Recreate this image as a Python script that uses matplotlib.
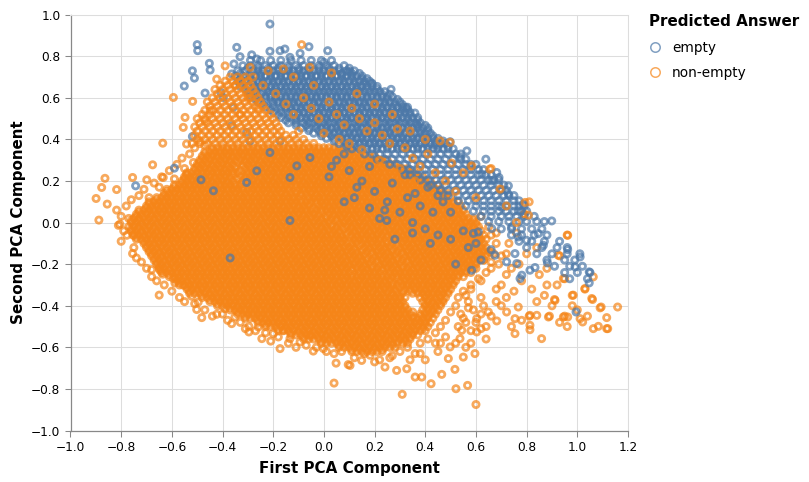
import numpy as np
import matplotlib
matplotlib.use("Agg")
import matplotlib.pyplot as plt
from matplotlib.lines import Line2D

# ------------------------------------------------------------------
# Data (PCA coordinates).
# Dense regions are given as rows: one y value per row and the x
# positions (in hundredths) of the rings seen along that row.
# ------------------------------------------------------------------
SERIES = ["empty", "non-empty"]
COLORS = ["#4c78a8", "#f58518"]
X_TICKS = [-1.0, -0.8, -0.6, -0.4, -0.2, 0.0, 0.2, 0.4, 0.6, 0.8, 1.0, 1.2]
Y_TICKS = [-1.0, -0.8, -0.6, -0.4, -0.2, 0.0, 0.2, 0.4, 0.6, 0.8, 1.0]

# non-empty: saturated core (rows)
ORANGE_ROW_Y = [0.36, 0.34, 0.32, 0.30, 0.28, 0.26, 0.24, 0.22, 0.20, 0.18,
                0.16, 0.14, 0.12, 0.10, 0.08, 0.06, 0.04, 0.02, 0.00, -0.02,
                -0.04, -0.06, -0.08, -0.10, -0.12, -0.14, -0.16, -0.18, -0.20, -0.22,
                -0.24, -0.26, -0.28, -0.30, -0.32, -0.34, -0.36, -0.38, -0.40, -0.42,
                -0.44, -0.46, -0.48, -0.50, -0.52, -0.54, -0.56, -0.58, -0.60, -0.62]
ORANGE_ROW_X = [
    [-44,-42,-40,-38,-36,-34,-32,-30,-28,-26,-24,-22,-20,-18,-16,-14,-12,-10,-8,-6,-4,-2,0,2,4,6,8,10],
    [-47,-45,-43,-41,-39,-37,-35,-33,-31,-29,-27,-25,-23,-21,-19,-17,-15,-13,-11,-9,-7,-5,-3,-1,1,3,5,7,9,11,13,15],
    [-48,-46,-44,-42,-40,-38,-36,-34,-32,-30,-28,-26,-24,-22,-20,-18,-16,-14,-12,-10,-8,-6,-4,-2,0,2,4,6,8,10,12,14,16,18,20],
    [-49,-47,-45,-43,-41,-39,-37,-35,-33,-31,-29,-27,-25,-23,-21,-19,-17,-15,-13,-11,-9,-7,-5,-3,-1,1,3,5,7,9,11,13,15,17,19,21,23,25],
    [-50,-48,-46,-44,-42,-40,-38,-36,-32,-30,-28,-26,-24,-22,-20,-18,-16,-14,-12,-10,-8,-6,-4,-2,0,2,4,6,8,10,12,14,16,18,20,22,24,26,28],
    [-51,-49,-47,-45,-43,-41,-39,-37,-35,-31,-29,-27,-25,-23,-21,-19,-17,-15,-13,-11,-9,-7,-5,-3,-1,1,3,5,7,9,11,13,15,17,19,21,23,25,27,29,31,33],
    [-54,-52,-50,-48,-46,-44,-42,-40,-38,-36,-34,-30,-28,-26,-24,-22,-20,-18,-16,-14,-12,-10,-8,-6,-4,-2,0,2,4,6,8,10,12,14,16,18,20,22,24,26,28,30,32,34,36],
    [-55,-53,-51,-49,-47,-45,-43,-41,-39,-37,-33,-31,-29,-27,-25,-23,-21,-19,-17,-15,-13,-11,-9,-7,-5,-3,-1,1,3,5,7,9,11,13,15,17,19,21,23,25,27,29,31,33,35,37,39],
    [-56,-54,-52,-50,-48,-46,-44,-42,-40,-38,-36,-32,-30,-28,-26,-24,-22,-20,-18,-16,-14,-12,-10,-8,-6,-4,-2,0,2,4,6,8,10,12,14,16,18,20,22,24,26,28,30,32,34,36,38,40,42],
    [-59,-57,-55,-53,-51,-49,-47,-45,-43,-41,-39,-37,-35,-33,-29,-27,-25,-23,-21,-19,-17,-15,-13,-11,-9,-7,-5,-3,-1,1,3,5,7,9,11,13,15,17,19,21,23,25,27,29,31,33,35,37,39,41,43,45],
    [-62,-60,-58,-56,-54,-52,-50,-48,-46,-44,-42,-40,-38,-36,-34,-32,-30,-28,-26,-24,-22,-20,-18,-16,-14,-10,-8,-6,-4,-2,0,2,4,6,8,10,12,14,16,18,20,22,24,26,28,30,32,34,36,38,40,42,44,46],
    [-63,-61,-59,-57,-55,-53,-51,-49,-47,-45,-43,-41,-39,-37,-35,-33,-31,-29,-27,-25,-23,-21,-19,-17,-15,-13,-11,-9,-7,-5,-3,-1,1,3,5,7,9,11,13,15,17,19,21,23,25,27,29,31,33,35,37,39,41,43,45,47,49],
    [-66,-64,-62,-60,-58,-56,-54,-52,-50,-48,-46,-44,-42,-40,-38,-36,-34,-32,-30,-28,-26,-24,-22,-20,-18,-16,-14,-12,-10,-6,-4,-2,0,2,4,6,8,10,12,14,16,18,20,22,24,26,28,30,32,34,36,38,40,42,44,46,48,50],
    [-69,-67,-65,-63,-61,-59,-57,-55,-53,-51,-49,-47,-45,-43,-41,-39,-37,-35,-33,-31,-29,-27,-25,-23,-21,-19,-17,-15,-13,-11,-9,-7,-5,-3,-1,1,3,5,7,9,11,13,15,17,19,21,23,25,27,29,31,33,35,37,39,41,43,45,47,49,51,53],
    [-70,-68,-66,-64,-62,-60,-58,-56,-54,-52,-50,-48,-46,-44,-42,-40,-38,-36,-34,-32,-30,-28,-26,-24,-22,-20,-18,-16,-14,-12,-10,-8,-6,-2,0,2,4,6,8,10,12,14,16,18,20,22,24,26,28,30,32,34,36,38,40,42,44,46,48,50,52,54],
    [-73,-71,-69,-67,-65,-63,-61,-59,-57,-55,-53,-51,-49,-47,-45,-43,-41,-39,-37,-35,-33,-31,-29,-27,-25,-23,-21,-19,-17,-15,-13,-11,-9,-7,-5,-3,-1,1,3,5,7,9,11,13,15,17,19,21,23,25,27,29,31,33,35,37,39,41,43,45,47,49,51,53,55],
    [-74,-72,-70,-68,-66,-64,-62,-60,-58,-56,-54,-52,-50,-48,-46,-44,-42,-40,-38,-36,-34,-32,-30,-28,-26,-24,-22,-20,-18,-16,-14,-12,-10,-8,-6,-4,-2,2,4,6,8,10,12,14,16,18,20,22,24,26,28,30,32,34,36,38,40,42,44,46,48,50,52,54,56],
    [-77,-75,-73,-71,-69,-67,-65,-63,-61,-59,-57,-55,-53,-51,-49,-47,-45,-43,-41,-39,-37,-35,-33,-31,-29,-27,-25,-23,-21,-19,-17,-15,-13,-11,-9,-7,-5,-3,-1,1,3,5,7,9,11,13,15,17,19,21,23,25,27,29,31,33,35,37,39,41,43,45,47,49,51,53,55,57,59],
    [-76,-74,-72,-70,-68,-66,-64,-62,-60,-58,-56,-54,-52,-50,-48,-46,-44,-42,-40,-38,-36,-34,-32,-30,-28,-26,-24,-22,-20,-18,-16,-14,-12,-10,-8,-6,-4,-2,0,2,6,8,10,12,14,16,18,20,22,24,26,28,30,32,34,36,38,40,42,44,46,48,50,52,54,56,58,60],
    [-77,-75,-73,-71,-69,-67,-65,-63,-61,-59,-57,-55,-53,-51,-49,-47,-45,-43,-41,-39,-37,-35,-33,-31,-29,-27,-25,-23,-21,-19,-17,-15,-13,-11,-9,-7,-5,-3,-1,1,3,5,7,9,11,13,15,17,19,21,23,25,27,29,31,33,35,37,39,41,43,45,47,49,51,53,55,57,59,61],
    [-76,-74,-72,-70,-68,-66,-64,-62,-60,-58,-56,-54,-52,-50,-48,-46,-44,-42,-40,-38,-36,-34,-32,-30,-28,-26,-24,-22,-20,-18,-16,-14,-12,-10,-8,-6,-4,-2,0,2,4,6,10,12,14,16,18,20,22,24,26,28,30,32,34,36,38,40,42,44,46,48,50,52,54,56,58,60,62],
    [-75,-73,-71,-69,-67,-65,-63,-61,-59,-57,-55,-53,-51,-49,-47,-45,-43,-41,-39,-37,-35,-33,-31,-29,-27,-25,-23,-21,-19,-17,-15,-13,-11,-9,-7,-5,-3,-1,1,3,5,7,9,11,13,15,17,19,21,23,25,27,29,31,33,35,37,39,41,43,45,47,49,51,53,55,57,59,61,63],
    [-74,-72,-70,-68,-66,-64,-62,-60,-58,-56,-54,-52,-50,-48,-46,-44,-42,-40,-38,-36,-34,-32,-30,-28,-26,-24,-22,-20,-18,-16,-14,-12,-10,-8,-6,-4,-2,0,2,4,6,8,12,14,16,18,20,22,26,28,30,32,34,36,38,40,42,44,46,48,50,52,54,56,58,60,62,64],
    [-71,-69,-67,-65,-63,-61,-59,-57,-55,-53,-51,-49,-47,-45,-43,-41,-39,-37,-35,-33,-31,-29,-27,-25,-23,-21,-19,-17,-15,-13,-11,-9,-7,-5,-3,-1,1,3,5,7,9,11,13,15,17,19,21,23,25,27,29,31,33,35,37,39,41,43,45,47,49,51,53,55,57,59,61,63],
    [-70,-68,-66,-64,-62,-60,-58,-56,-54,-52,-50,-48,-46,-44,-42,-40,-38,-36,-34,-32,-30,-28,-26,-24,-22,-20,-18,-16,-14,-12,-10,-8,-6,-4,-2,0,2,4,6,8,10,12,16,18,20,22,24,26,30,32,34,36,38,40,42,44,46,48,50,52,54,56,58,60,62,64],
    [-69,-67,-65,-63,-61,-59,-57,-55,-53,-51,-49,-47,-45,-43,-41,-39,-37,-35,-33,-31,-29,-27,-25,-23,-21,-19,-17,-15,-13,-11,-9,-7,-5,-3,-1,1,3,5,7,9,11,13,15,17,19,21,23,25,27,29,31,33,35,37,39,41,43,45,47,49,51,53,55,57,59,61,63,65],
    [-68,-66,-64,-62,-60,-58,-56,-54,-52,-50,-48,-46,-44,-42,-40,-38,-36,-34,-32,-30,-28,-26,-24,-22,-20,-18,-16,-14,-12,-10,-8,-6,-4,-2,0,2,4,6,8,10,12,14,16,20,22,24,26,28,32,34,36,38,40,42,44,46,48,50,52,54,56,58,60,62,64],
    [-67,-65,-63,-61,-59,-57,-55,-53,-51,-49,-47,-45,-43,-41,-39,-37,-35,-33,-31,-29,-27,-25,-23,-21,-19,-17,-15,-13,-11,-9,-7,-5,-3,-1,1,3,5,7,9,11,13,15,17,19,21,23,25,27,29,31,33,35,37,39,41,43,45,47,49,51,53,55,57,59,61,63],
    [-66,-64,-62,-60,-58,-56,-54,-52,-50,-48,-46,-44,-42,-40,-38,-36,-34,-32,-30,-28,-26,-24,-22,-20,-18,-16,-14,-12,-10,-8,-6,-4,-2,0,2,4,6,8,10,12,14,16,18,22,24,26,28,30,34,36,38,40,42,44,46,48,50,52,54,56,58,60],
    [-65,-63,-61,-59,-57,-55,-53,-51,-49,-47,-45,-43,-41,-39,-37,-35,-33,-31,-29,-27,-25,-23,-21,-19,-17,-15,-13,-11,-9,-7,-5,-3,-1,1,3,5,7,9,11,13,15,17,19,21,23,25,27,29,31,33,35,37,39,41,43,45,47,49,51,53,55,57,59],
    [-64,-62,-60,-58,-56,-54,-52,-50,-48,-46,-44,-42,-40,-38,-36,-34,-32,-30,-28,-26,-24,-22,-20,-18,-16,-14,-12,-10,-8,-6,-4,-2,0,2,4,6,8,10,14,16,18,20,22,26,28,30,32,34,36,38,40,42,44,46,48,50,52,54,56,58],
    [-61,-59,-57,-55,-53,-51,-49,-47,-45,-43,-41,-39,-37,-35,-33,-31,-29,-27,-25,-23,-21,-19,-17,-15,-13,-11,-9,-7,-5,-3,-1,1,3,5,7,9,11,13,15,17,19,21,23,25,27,29,31,33,35,37,39,41,43,45,47,49,51,53,55],
    [-58,-56,-54,-52,-50,-48,-46,-44,-42,-40,-38,-36,-34,-32,-30,-28,-26,-24,-22,-20,-18,-16,-14,-12,-10,-8,-6,-4,-2,0,2,4,6,8,10,12,14,16,18,20,22,24,26,30,32,34,36,38,40,42,44,46,48,50,52],
    [-57,-55,-53,-51,-49,-47,-45,-43,-41,-39,-37,-35,-33,-31,-29,-27,-25,-23,-21,-19,-17,-15,-13,-11,-9,-7,-5,-3,-1,1,3,5,7,9,11,13,15,17,19,21,23,25,27,29,31,33,35,37,39,41,43,45,47,49,51],
    [-54,-52,-50,-48,-46,-44,-42,-40,-38,-36,-34,-32,-30,-28,-26,-24,-22,-20,-18,-16,-14,-12,-10,-8,-6,-4,-2,0,2,4,6,8,10,12,14,16,18,20,22,24,26,28,32,34,36,38,40,42,44,46,48,50],
    [-53,-51,-49,-47,-45,-43,-41,-39,-37,-35,-33,-31,-29,-27,-25,-23,-21,-19,-17,-15,-13,-11,-9,-7,-5,-3,-1,1,3,5,7,9,11,13,15,17,19,21,23,25,27,29,31,35,37,39,41,43,45,47,49],
    [-48,-46,-44,-42,-40,-38,-36,-34,-32,-30,-28,-26,-24,-22,-20,-18,-16,-14,-12,-10,-8,-6,-4,-2,0,2,4,6,8,10,12,14,16,18,20,22,24,26,28,30,32,38,40,42,44,46,48],
    [-45,-43,-41,-39,-37,-35,-33,-31,-29,-27,-25,-23,-21,-19,-17,-15,-13,-11,-9,-7,-5,-3,-1,1,3,5,7,9,11,13,15,17,19,21,23,25,27,29,31,39,41,43,45,47],
    [-42,-40,-38,-36,-34,-32,-30,-28,-26,-24,-22,-20,-18,-16,-14,-12,-10,-8,-6,-4,-2,0,2,4,6,8,10,12,14,16,18,20,22,24,26,28,30,32,40,42,44,46],
    [-37,-35,-33,-31,-29,-27,-25,-23,-21,-19,-17,-15,-13,-11,-9,-7,-5,-3,-1,1,3,5,7,9,11,13,15,17,19,21,23,25,27,29,31,33,39,41,43,45],
    [-34,-32,-30,-28,-26,-24,-22,-20,-18,-16,-14,-12,-10,-8,-6,-4,-2,0,2,4,6,8,10,12,14,16,18,20,22,24,26,28,30,32,34,38,40,42,44],
    [-31,-29,-27,-25,-23,-21,-19,-17,-15,-13,-11,-9,-7,-5,-3,-1,1,3,5,7,9,11,13,15,17,19,21,23,25,27,29,31,33,35,37,39,41,43],
    [-26,-24,-22,-20,-18,-16,-14,-12,-10,-8,-6,-4,-2,0,2,4,6,8,10,12,14,16,18,20,22,24,26,28,30,32,34,36,38,40,42],
    [-23,-21,-19,-17,-15,-13,-11,-9,-7,-5,-3,-1,1,3,5,7,9,11,13,15,17,19,21,23,25,27,29,31,33,35,37,39,41],
    [-18,-16,-14,-12,-10,-8,-6,-4,-2,0,2,4,6,8,10,12,14,16,18,20,22,24,26,28,30,32,34,36,38,40],
    [-13,-11,-9,-7,-5,-3,-1,1,3,5,7,9,11,13,15,17,19,21,23,25,27,29,31,33,35,37],
    [-8,-6,-4,-2,0,2,4,6,8,10,12,14,16,18,20,22,24,26,28,30,32,34],
    [-1,1,3,5,7,9,11,13,15,17,19,21,23,25,27,29,31,33],
    [6,8,10,12,14,16,18,20,22,24,26,28],
    [11,13,15,17,19,21,23],
]

# non-empty: rings between the rows above (same saturated core)
ORANGE_MID_Y = [0.35, 0.33, 0.31, 0.29, 0.27, 0.25, 0.23, 0.21, 0.19, 0.17,
                0.15, 0.13, 0.11, 0.09, 0.07, 0.05, 0.03, 0.01, -0.01, -0.03,
                -0.05, -0.07, -0.09, -0.11, -0.13, -0.15, -0.17, -0.19, -0.21, -0.23,
                -0.25, -0.27, -0.29, -0.31, -0.33, -0.35, -0.37, -0.39, -0.41, -0.43,
                -0.45, -0.47, -0.49, -0.51, -0.53, -0.55, -0.57, -0.59, -0.61]
ORANGE_MID_X = [
    [-44,-41,-38,-35,-32,-29,-26,-23,-20,-17,-14,-11,-8,-5,-2,1,4,7,10],
    [-47,-44,-41,-38,-35,-32,-29,-26,-23,-20,-17,-14,-11,-8,-5,-2,1,4,7,10,13],
    [-48,-45,-42,-39,-36,-33,-30,-27,-24,-21,-18,-15,-12,-9,-6,-3,0,3,6,9,12,15,18],
    [-49,-46,-43,-40,-37,-34,-31,-28,-25,-22,-19,-16,-13,-10,-7,-4,-1,2,5,8,11,14,17,20,23],
    [-50,-47,-44,-41,-38,-35,-32,-29,-26,-23,-20,-17,-14,-11,-8,-5,-2,1,4,7,10,13,16,19,22,25,28],
    [-51,-48,-45,-42,-39,-36,-33,-30,-27,-24,-21,-18,-15,-12,-9,-6,-3,0,3,6,9,12,15,18,21,24,27,30,33],
    [-54,-51,-48,-45,-42,-39,-36,-33,-30,-27,-24,-21,-18,-15,-12,-9,-6,-3,0,3,6,9,12,15,18,21,24,27,30,33,36],
    [-55,-52,-49,-46,-43,-40,-37,-34,-31,-28,-25,-22,-19,-16,-13,-10,-7,-4,-1,2,5,8,11,14,17,20,23,26,29,32,35,38],
    [-56,-53,-50,-47,-44,-41,-38,-35,-32,-29,-26,-23,-20,-17,-14,-11,-8,-5,-2,1,4,7,10,13,16,19,22,25,28,31,34,37,40],
    [-59,-56,-53,-50,-47,-44,-41,-38,-35,-32,-29,-26,-23,-20,-17,-14,-11,-8,-5,-2,1,4,7,10,13,16,19,22,25,28,31,34,37,40,43],
    [-62,-59,-56,-53,-50,-47,-44,-41,-38,-35,-32,-29,-26,-23,-20,-17,-14,-11,-8,-5,-2,1,4,7,10,13,16,19,22,25,28,31,34,37,40,43,46],
    [-63,-60,-57,-54,-51,-48,-45,-42,-39,-36,-33,-30,-27,-24,-21,-18,-15,-12,-9,-6,-3,0,3,6,9,12,15,18,21,24,27,30,33,36,39,42,45,48],
    [-66,-63,-60,-57,-54,-51,-48,-45,-42,-39,-36,-33,-30,-27,-24,-21,-18,-15,-12,-9,-6,-3,0,3,6,9,12,15,18,21,24,27,30,33,36,39,42,45,48],
    [-69,-66,-63,-60,-57,-54,-51,-48,-45,-42,-39,-36,-33,-30,-27,-24,-21,-18,-15,-12,-9,-6,-3,0,3,6,9,12,15,18,21,24,27,30,33,36,39,42,45,48,51],
    [-70,-67,-64,-61,-58,-55,-52,-49,-46,-43,-40,-37,-34,-31,-28,-25,-22,-19,-16,-13,-10,-7,-4,-1,2,5,8,11,14,17,20,23,26,29,32,35,38,41,44,47,50,53],
    [-73,-70,-67,-64,-61,-58,-55,-52,-49,-46,-43,-40,-37,-34,-31,-28,-25,-22,-19,-16,-13,-10,-7,-4,-1,2,5,8,11,14,17,20,23,26,29,32,35,38,41,44,47,50,53],
    [-74,-71,-68,-65,-62,-59,-56,-53,-50,-47,-44,-41,-38,-35,-32,-29,-26,-23,-20,-17,-14,-11,-8,-5,-2,1,4,7,10,13,16,19,22,25,28,31,34,37,40,43,46,49,52,55],
    [-76,-73,-70,-67,-64,-61,-58,-55,-52,-49,-46,-43,-40,-37,-34,-31,-28,-25,-22,-19,-16,-13,-10,-7,-4,-1,2,5,8,11,14,17,20,23,26,29,32,35,38,41,44,47,50,53,56,59],
    [-75,-72,-69,-66,-63,-60,-57,-54,-51,-48,-45,-42,-39,-36,-33,-30,-27,-24,-21,-18,-15,-12,-9,-6,-3,0,3,6,9,12,15,18,21,24,27,30,33,36,39,42,45,48,51,54,57,60],
    [-76,-73,-70,-67,-64,-61,-58,-55,-52,-49,-46,-43,-40,-37,-34,-31,-28,-25,-22,-19,-16,-13,-10,-7,-4,-1,2,5,8,11,14,17,20,23,26,29,32,35,38,41,44,47,50,53,56,59],
    [-75,-72,-69,-66,-63,-60,-57,-54,-51,-48,-45,-42,-39,-36,-33,-30,-27,-24,-21,-18,-15,-12,-9,-6,-3,0,3,6,9,12,15,18,21,24,27,30,33,36,39,42,45,48,51,54,57,60],
    [-74,-71,-68,-65,-62,-59,-56,-53,-50,-47,-44,-41,-38,-35,-32,-29,-26,-23,-20,-17,-14,-11,-8,-5,-2,1,4,7,10,13,16,19,22,25,28,31,34,37,40,43,46,49,52,55,58,61],
    [-71,-68,-65,-62,-59,-56,-53,-50,-47,-44,-41,-38,-35,-32,-29,-26,-23,-20,-17,-14,-11,-8,-5,-2,1,4,7,10,13,16,19,22,25,28,31,34,37,40,43,46,49,52,55,58,61],
    [-70,-67,-64,-61,-58,-55,-52,-49,-46,-43,-40,-37,-34,-31,-28,-25,-22,-19,-16,-13,-10,-7,-4,-1,2,5,8,11,14,17,20,23,26,29,32,35,38,41,44,47,50,53,56,59,62],
    [-69,-66,-63,-60,-57,-54,-51,-48,-45,-42,-39,-36,-33,-30,-27,-24,-21,-18,-15,-12,-9,-6,-3,0,3,6,9,12,15,18,21,24,27,30,33,36,39,42,45,48,51,54,57,60,63],
    [-68,-65,-62,-59,-56,-53,-50,-47,-44,-41,-38,-35,-32,-29,-26,-23,-20,-17,-14,-11,-8,-5,-2,1,4,7,10,13,16,19,22,25,28,31,34,37,40,43,46,49,52,55,58,61,64],
    [-67,-64,-61,-58,-55,-52,-49,-46,-43,-40,-37,-34,-31,-28,-25,-22,-19,-16,-13,-10,-7,-4,-1,2,5,8,11,14,17,20,23,26,29,32,35,38,41,44,47,50,53,56,59,62],
    [-66,-63,-60,-57,-54,-51,-48,-45,-42,-39,-36,-33,-30,-27,-24,-21,-18,-15,-12,-9,-6,-3,0,3,6,9,12,15,18,21,24,27,30,33,36,39,42,45,48,51,54,57,60],
    [-65,-62,-59,-56,-53,-50,-47,-44,-41,-38,-35,-32,-29,-26,-23,-20,-17,-14,-11,-8,-5,-2,1,4,7,10,13,16,19,22,25,28,31,34,37,40,43,46,49,52,55,58],
    [-64,-61,-58,-55,-52,-49,-46,-43,-40,-37,-34,-31,-28,-25,-22,-19,-16,-13,-10,-7,-4,-1,2,5,8,11,14,17,20,23,26,29,32,35,38,41,44,47,50,53,56],
    [-61,-58,-55,-52,-49,-46,-43,-40,-37,-34,-31,-28,-25,-22,-19,-16,-13,-10,-7,-4,-1,2,5,8,11,14,17,20,23,26,29,32,35,38,41,44,47,50,53],
    [-58,-55,-52,-49,-46,-43,-40,-37,-34,-31,-28,-25,-22,-19,-16,-13,-10,-7,-4,-1,2,5,8,11,14,17,20,23,26,29,32,35,38,41,44,47,50],
    [-57,-54,-51,-48,-45,-42,-39,-36,-33,-30,-27,-24,-21,-18,-15,-12,-9,-6,-3,0,3,6,9,12,15,18,21,24,27,30,33,36,39,42,45,48,51],
    [-54,-51,-48,-45,-42,-39,-36,-33,-30,-27,-24,-21,-18,-15,-12,-9,-6,-3,0,3,6,9,12,15,18,21,24,27,30,33,36,39,42,45,48],
    [-53,-50,-47,-44,-41,-38,-35,-32,-29,-26,-23,-20,-17,-14,-11,-8,-5,-2,1,4,7,10,13,16,19,22,25,28,31,34,37,40,43,46,49],
    [-48,-45,-42,-39,-36,-33,-30,-27,-24,-21,-18,-15,-12,-9,-6,-3,0,3,6,9,12,15,18,21,24,27,30,40,43,46],
    [-45,-42,-39,-36,-33,-30,-27,-24,-21,-18,-15,-12,-9,-6,-3,0,3,6,9,12,15,18,21,24,27,30,41,44,47],
    [-42,-39,-36,-33,-30,-27,-24,-21,-18,-15,-12,-9,-6,-3,0,3,6,9,12,15,18,21,24,27,30,40,43,46],
    [-37,-34,-31,-28,-25,-22,-19,-16,-13,-10,-7,-4,-1,2,5,8,11,14,17,20,23,26,29,32,41,44],
    [-34,-31,-28,-25,-22,-19,-16,-13,-10,-7,-4,-1,2,5,8,11,14,17,20,23,26,29,32,35,40,43],
    [-31,-28,-25,-22,-19,-16,-13,-10,-7,-4,-1,2,5,8,11,14,17,20,23,26,29,32,35,38,41],
    [-26,-23,-20,-17,-14,-11,-8,-5,-2,1,4,7,10,13,16,19,22,25,28,31,34,37,40],
    [-23,-20,-17,-14,-11,-8,-5,-2,1,4,7,10,13,16,19,22,25,28,31,34,37,40],
    [-18,-15,-12,-9,-6,-3,0,3,6,9,12,15,18,21,24,27,30,33,36,39],
    [-13,-10,-7,-4,-1,2,5,8,11,14,17,20,23,26,29,32,35],
    [-8,-5,-2,1,4,7,10,13,16,19,22,25,28,31,34],
    [-1,2,5,8,11,14,17,20,23,26,29,32],
    [6,9,12,15,18,21,24,27],
    [11,14,17,20,23],
]

# non-empty: fringe and outliers around the core
ORANGE_EDGE = [
    (-0.864, 0.213), (-0.877, 0.169), (-0.899, 0.116), (-0.855, 0.089), (-0.888, 0.012), (-0.818, 0.159),
    (-0.818, 0.060), (-0.811, -0.013), (-0.755, 0.217), (-0.699, 0.206), (-0.634, 0.217), (-0.805, -0.008),
    (-0.778, -0.061), (-0.752, -0.061), (-0.755, -0.149), (-0.680, -0.226), (-0.647, -0.229), (-0.636, -0.248),
    (-0.650, -0.349), (-0.594, -0.269), (-0.588, -0.290), (-0.555, -0.301), (-0.522, -0.354), (-0.496, -0.382),
    (-0.502, -0.418), (-0.482, -0.457), (-0.423, -0.441), (-0.390, -0.414), (-0.364, -0.486), (-0.351, -0.454),
    (-0.296, -0.499), (-0.296, -0.526), (-0.245, -0.558), (-0.259, -0.502), (-0.173, -0.606), (-0.160, -0.518),
    (-0.134, -0.558), (-0.094, -0.574), (-0.042, -0.618), (-0.002, -0.606), (0.048, -0.676), (0.040, -0.772),
    (0.096, -0.683), (-0.055, -0.542), (-0.200, -0.534),
    (-0.80, 0.03), (-0.79, -0.04), (-0.80, -0.09), (-0.78, 0.08), (-0.76, 0.11), (-0.73, 0.13), (-0.71, 0.16),
    (-0.69, 0.12), (-0.67, 0.19), (-0.65, 0.17), (-0.64, 0.22), (-0.61, 0.25), (-0.59, 0.21), (-0.58, 0.28),
    (-0.56, 0.31), (-0.55, 0.26), (-0.53, 0.33), (-0.51, 0.36), (-0.49, 0.39), (-0.47, 0.37), (-0.75, -0.12),
    (-0.74, -0.17), (-0.72, -0.19), (-0.70, -0.22), (-0.68, -0.26), (-0.66, -0.28), (-0.63, -0.30), (-0.60, -0.33),
    (-0.57, -0.36), (-0.55, -0.38), (-0.51, -0.39), (-0.47, -0.42), (-0.44, -0.45), (-0.40, -0.44), (-0.38, -0.47),
    (-0.33, -0.48), (-0.31, -0.51), (-0.27, -0.52), (-0.23, -0.53), (-0.21, -0.57), (-0.18, -0.55), (-0.14, -0.58),
    (-0.11, -0.60), (-0.07, -0.59), (-0.03, -0.60), (0.01, -0.62), (0.04, -0.63), (0.07, -0.62), (0.12, -0.65),
    (0.16, -0.63), (0.22, -0.66), (0.27, -0.64), (0.30, -0.62), (0.33, -0.60), (0.36, -0.63), (0.38, -0.58),
    (0.41, -0.56), (0.44, -0.53), (0.46, -0.50), (0.48, -0.47), (0.50, -0.43), (0.52, -0.40), (0.53, -0.36),
    (0.55, -0.33), (0.58, -0.30), (0.61, -0.27), (0.64, -0.24), (0.66, -0.19), (0.67, -0.15), (0.68, -0.10),
    (0.66, -0.06), (0.65, -0.02), (0.62, 0.03),
    (0.56, -0.35), (0.57, -0.38), (0.59, -0.42), (0.55, -0.46), (0.60, -0.48), (0.63, -0.40), (0.66, -0.45),
    (0.58, -0.52), (0.62, -0.51), (0.53, -0.50),
    (0.962, -0.061), (0.925, -0.157), (0.945, -0.269), (1.030, -0.317), (0.984, -0.349), (1.063, -0.261),
    (1.057, -0.365), (1.094, -0.406), (1.159, -0.406), (1.116, -0.457), (1.116, -0.510), (1.063, -0.510),
    (1.083, -0.499), (1.021, -0.478), (1.011, -0.462), (0.962, -0.454), (0.945, -0.454), (0.912, -0.374),
    (0.886, -0.454), (0.859, -0.558), (0.754, -0.534), (0.813, -0.494), (0.813, -0.515), (0.840, -0.446),
    (0.813, -0.446), (0.754, -0.462), (0.767, -0.406), (0.682, -0.473), (0.721, -0.430), (0.649, -0.430),
    (0.603, -0.462), (0.603, -0.526), (0.544, -0.518), (0.537, -0.558), (0.596, -0.630), (0.550, -0.647),
    (0.498, -0.598), (0.491, -0.654), (0.517, -0.706), (0.465, -0.730), (0.423, -0.775), (0.386, -0.743),
    (0.360, -0.743), (0.327, -0.703), (0.287, -0.711), (0.241, -0.695), (0.521, -0.799), (0.567, -0.783),
    (0.600, -0.875), (0.309, -0.826), (0.103, -0.687), (0.149, -0.663), (0.182, -0.638),
    (0.70, -0.16), (0.79, 0.04), (0.70, 0.16), (0.66, 0.26), (0.58, 0.27), (0.68, -0.05), (0.73, -0.10),
    (0.77, -0.20), (0.85, -0.25), (0.88, -0.30), (0.70, -0.30), (0.66, -0.22), (0.72, -0.25), (0.75, -0.33),
    (0.68, -0.38), (0.62, -0.36), (0.57, -0.41), (0.64, -0.50), (0.58, -0.58), (0.45, -0.62), (0.40, -0.66),
    (0.44, -0.58), (0.38, -0.63), (0.34, -0.66), (0.26, -0.65), (0.20, -0.67), (0.72, -0.36), (0.78, -0.28),
    (0.82, -0.32), (0.90, -0.40), (0.87, -0.35), (0.62, -0.28), (0.66, -0.14), (0.72, -0.15), (0.80, -0.15),
    (0.76, -0.05), (0.84, -0.12), (0.88, -0.22), (0.92, -0.30), (0.98, -0.40), (0.84, -0.38), (0.56, -0.48),
    (0.52, -0.58), (0.48, -0.55), (0.70, -0.40), (0.62, -0.44), (0.68, -0.32), (0.78, -0.47), (0.93, -0.48),
    (1.00, -0.42), (1.04, -0.45), (0.96, -0.50), (0.74, -0.50), (0.58, -0.32), (0.63, -0.18), (0.69, -0.20),
    (0.74, -0.22), (0.60, -0.22), (0.54, -0.44), (0.64, -0.56), (0.56, -0.60), (0.46, -0.58), (0.81, -0.45),
    (0.89, -0.45), (0.91, -0.37), (0.95, -0.45), (0.98, -0.35), (1.06, -0.37), (1.09, -0.41), (1.12, -0.51),
    (1.03, -0.32), (0.95, -0.27), (0.93, -0.16), (0.96, -0.06), (0.81, 0.10), (0.79, 0.04),
]

# non-empty: rings lying over the "empty" cloud in the upper-left part
ORANGE_UPPER_ROW_Y = [0.38, 0.40, 0.42, 0.44, 0.46, 0.48, 0.50, 0.52, 0.54,
                      0.56, 0.58, 0.60, 0.62, 0.64, 0.66, 0.68, 0.70]
ORANGE_UPPER_ROW_X = [
    [-52, -49, -46, -43, -40, -37, -34, -31, -28, -25, -22, -19, -16, -13, -10, -7, -4],
    [-50, -47, -44, -41, -38, -35, -32, -29, -26, -23, -20, -17, -14, -11, -8],
    [-51, -48, -45, -42, -39, -36, -33, -30, -27, -24, -21, -18, -15, -12],
    [-50, -47, -44, -41, -38, -35, -32, -29, -26, -23, -20, -17],
    [-51, -48, -45, -42, -39, -36, -33, -30, -27, -24, -21, -18],
    [-49, -46, -43, -40, -37, -34, -31, -28, -25, -22, -19],
    [-50, -47, -44, -41, -38, -35, -32, -29, -26, -23],
    [-48, -45, -42, -39, -36, -33, -30, -27, -24, -21],
    [-47, -44, -41, -38, -35, -32, -29, -26, -23],
    [-45, -42, -39, -36, -33, -30, -27, -24],
    [-46, -43, -40, -37, -34, -31, -28, -25],
    [-44, -41, -38, -35, -32, -29, -26],
    [-42, -39, -36, -33, -30, -27],
    [-43, -40, -37, -34, -31, -28],
    [-41, -38, -35, -32, -29],
    [-39, -36, -33, -30],
    [-37, -34, -31],
]
ORANGE_OVER = [
    (-0.28, 0.70), (-0.24, 0.66), (-0.19, 0.62), (-0.15, 0.57), (-0.12, 0.52), (-0.08, 0.60), (-0.05, 0.55),
    (-0.02, 0.50), (0.02, 0.58), (0.05, 0.52), (0.08, 0.47), (0.11, 0.55), (0.14, 0.50), (0.17, 0.44),
    (0.20, 0.48), (0.23, 0.42), (0.26, 0.38), (0.29, 0.45), (0.32, 0.36), (0.35, 0.31), (0.38, 0.27),
    (0.41, 0.33), (0.44, 0.24), (0.458, 0.393), (0.498, 0.386), (0.48, 0.20), (0.52, 0.15), (0.55, 0.24),
    (0.583, 0.273), (0.504, 0.286), (0.60, 0.12), (0.655, 0.257), (0.695, 0.161), (0.72, 0.08), (0.794, 0.097),
    (0.807, 0.036), (0.76, 0.00), (-0.30, 0.60), (-0.26, 0.55), (-0.20, 0.50), (-0.10, 0.44), (0.00, 0.43),
    (0.06, 0.40), (0.10, 0.38), (-0.35, 0.66), (-0.33, 0.52), (-0.22, 0.73), (-0.12, 0.70), (-0.04, 0.66),
    (0.03, 0.72), (0.13, 0.62), (0.20, 0.57), (0.27, 0.52), (0.34, 0.44), (0.40, 0.40), (-0.088, 0.856),
    (-0.16, 0.739), (-0.055, 0.747), (0.15, 0.35), (0.22, 0.30), (0.30, 0.26), (0.36, 0.20), (-0.291, 0.747),
    (-0.39, 0.754), (-0.423, 0.69), (-0.449, 0.538), (-0.469, 0.49), (-0.542, 0.378), (-0.515, 0.289),
    (-0.542, 0.233), (-0.594, 0.602), (-0.518, 0.583), (-0.548, 0.506), (-0.555, 0.458), (-0.636, 0.382),
    (-0.676, 0.278),
]

# empty: band (rows) along the upper-right of the cloud
BLUE_ROW_Y = [0.780, 0.755, 0.730, 0.705, 0.680, 0.655, 0.630, 0.605, 0.580, 0.555,
              0.530, 0.505, 0.480, 0.455, 0.430, 0.405, 0.380, 0.355, 0.330, 0.305,
              0.280, 0.255, 0.230, 0.205, 0.180, 0.155, 0.130, 0.105, 0.080, 0.055,
              0.030, 0.005, -0.030, -0.060, -0.090, -0.120, -0.150, -0.180, -0.210, -0.240, -0.270]
BLUE_ROW_X = [
    [-29, -25, -21, -17, -13, -9, -5, -1, 3],
    [-32, -29, -26, -23, -20, -17, -14, -11, -8, -5, -2, 1, 4, 8],
    [-34, -31, -28, -26, -24, -22, -20, -18, -16, -14, -12, -10, -8, -6, -4, -2, 0, 2, 4, 6, 9, 12],
    [-35, -32, -29, -27, -25, -23, -21, -19, -17, -15, -13, -11, -9, -7, -5, -3, -1, 1, 3, 5, 7, 9, 11, 13, 15],
    [-34, -31, -28, -26, -24, -22, -20, -18, -16, -14, -12, -10, -8, -6, -4, -2, 0, 2, 4, 6, 8, 10, 12, 14, 16, 18],
    [-33, -30, -27, -25, -23, -21, -19, -17, -15, -13, -11, -9, -7, -5, -3, -1, 1, 3, 5, 7, 9, 11, 13, 15, 17, 19, 21],
    [-30, -27, -24, -22, -20, -18, -16, -14, -12, -10, -8, -6, -4, -2, 0, 2, 4, 6, 8, 10, 12, 14, 16, 18, 20, 22, 24],
    [-29, -26, -23, -21, -19, -17, -15, -13, -11, -9, -7, -5, -3, -1, 1, 3, 5, 7, 9, 11, 13, 15, 17, 19, 21, 23, 25, 27],
    [-26, -23, -20, -18, -16, -14, -12, -10, -8, -6, -4, -2, 0, 2, 4, 6, 8, 10, 12, 14, 16, 18, 20, 22, 24, 26, 28, 30],
    [-23, -20, -17, -15, -13, -11, -9, -7, -5, -3, -1, 1, 3, 5, 7, 9, 11, 13, 15, 17, 19, 21, 23, 25, 27, 29, 31, 33],
    [-20, -17, -14, -12, -10, -8, -6, -4, -2, 0, 2, 4, 6, 8, 10, 12, 14, 16, 18, 20, 22, 24, 26, 28, 30, 32, 34],
    [-17, -14, -11, -9, -7, -5, -3, -1, 1, 3, 5, 7, 9, 11, 13, 15, 17, 19, 21, 23, 25, 27, 29, 31, 33, 35, 37],
    [-14, -11, -8, -6, -4, -2, 0, 2, 4, 6, 8, 10, 12, 14, 16, 18, 20, 22, 24, 26, 28, 30, 32, 34, 36, 38],
    [-9, -6, -3, -1, 1, 3, 5, 7, 9, 11, 13, 15, 17, 19, 21, 23, 25, 27, 29, 31, 33, 35, 37, 39, 41],
    [-4, -1, 2, 4, 6, 8, 10, 12, 14, 16, 18, 20, 22, 24, 26, 28, 30, 32, 34, 36, 38, 40, 42],
    [1, 4, 7, 9, 11, 13, 15, 17, 19, 21, 23, 25, 27, 29, 31, 33, 35, 37, 39, 41, 43, 45],
    [6, 9, 12, 14, 16, 18, 20, 22, 24, 26, 28, 30, 32, 34, 36, 38, 40, 42, 44, 46, 48],
    [11, 14, 17, 19, 21, 23, 25, 27, 29, 31, 33, 35, 37, 39, 41, 43, 45, 47, 49, 51],
    [16, 19, 22, 25, 28, 31, 34, 37, 40, 43, 46, 49, 52, 54],
    [21, 24, 27, 30, 33, 36, 39, 42, 45, 48, 51, 54, 56],
    [26, 29, 32, 35, 38, 41, 44, 47, 50, 53, 56, 58, 60],
    [31, 34, 37, 40, 43, 46, 49, 52, 55, 58, 61, 63],
    [34, 37, 40, 43, 46, 49, 52, 55, 58, 61, 64, 66],
    [38, 41, 44, 47, 50, 53, 56, 59, 62, 65, 67, 69],
    [42, 45, 48, 51, 54, 57, 60, 63, 66, 69, 71],
    [46, 49, 52, 55, 58, 61, 64, 67, 70, 72],
    [49, 53, 56, 59, 62, 65, 68, 71, 73, 75],
    [53, 57, 60, 63, 66, 69, 72, 75, 77],
    [56, 60, 63, 66, 69, 72, 75, 77, 79],
    [59, 63, 66, 69, 72, 75, 78, 80],
    [62, 66, 70, 73, 76, 79, 83],
    [65, 69, 73, 77, 80, 84, 87],
    [70, 74, 78, 82, 86],
    [74, 78, 83, 88],
    [77, 82, 87, 93],
    [80, 86, 92, 96],
    [84, 90, 96, 101],
    [88, 95, 99],
    [91, 97, 102],
    [95, 100, 105],
    [97, 104],
]
# empty: rings between the dense rows above
BLUE_MID_Y = [0.7425, 0.7175, 0.6925, 0.6675, 0.6425, 0.6175, 0.5925, 0.5675,
              0.5425, 0.5175, 0.4925, 0.4675, 0.4425, 0.4175, 0.3925, 0.3675]
BLUE_MID_X = [
    [-30, -26, -22, -18, -14, -10, -6, -2, 2, 6, 10],
    [-33, -29, -25, -21, -17, -13, -9, -5, -1, 3, 7, 11, 14],
    [-33, -29, -25, -21, -17, -13, -9, -5, -1, 3, 7, 11, 15, 17],
    [-32, -28, -24, -20, -16, -12, -8, -4, 0, 4, 8, 12, 16, 19],
    [-31, -27, -23, -19, -15, -11, -7, -3, 1, 5, 9, 13, 17, 21],
    [-29, -25, -21, -17, -13, -9, -5, -1, 3, 7, 11, 15, 19, 23, 26],
    [-27, -23, -19, -15, -11, -7, -3, 1, 5, 9, 13, 17, 21, 25, 29],
    [-24, -20, -16, -12, -8, -4, 0, 4, 8, 12, 16, 20, 24, 28, 31],
    [-21, -17, -13, -9, -5, -1, 3, 7, 11, 15, 19, 23, 27, 31, 33],
    [-18, -14, -10, -6, -2, 2, 6, 10, 14, 18, 22, 26, 30, 34],
    [-15, -11, -7, -3, 1, 5, 9, 13, 17, 21, 25, 29, 33, 37],
    [-11, -7, -3, 1, 5, 9, 13, 17, 21, 25, 29, 33, 37, 40],
    [-6, -2, 2, 6, 10, 14, 18, 22, 26, 30, 34, 38, 41],
    [-1, 3, 7, 11, 15, 19, 23, 27, 31, 35, 39, 43],
    [4, 8, 12, 16, 20, 24, 28, 32, 36, 40, 44, 47],
    [9, 13, 17, 21, 25, 29, 33, 37, 41, 45, 49],
]
BLUE_SCATTER = [
    (-0.500, 0.856), (-0.498, 0.827), (-0.519, 0.730), (-0.511, 0.695), (-0.551, 0.657), (-0.469, 0.623),
    (-0.452, 0.766), (-0.449, 0.734), (-0.519, 0.414), (-0.590, 0.262), (-0.743, 0.177), (-0.485, 0.206),
    (-0.436, 0.153), (-0.213, 0.955), (-0.344, 0.843), (-0.331, 0.798), (-0.285, 0.807), (-0.265, 0.787),
    (-0.213, 0.824), (-0.173, 0.827), (-0.154, 0.835), (-0.134, 0.795), (-0.094, 0.814), (-0.059, 0.846),
    (0.015, 0.827), (0.000, 0.771), (0.070, 0.715), (0.096, 0.723), (-0.355, 0.763), (-0.364, 0.715),
    (-0.407, 0.626), (-0.397, 0.602), (-0.358, 0.554), (-0.364, 0.466), (-0.305, 0.434), (-0.292, 0.393),
    (-0.173, 0.393), (-0.265, 0.249), (-0.305, 0.193), (-0.134, 0.217), (-0.055, 0.313), (-0.107, 0.273),
    (-0.213, 0.337), (0.103, 0.727), (0.189, 0.671), (0.265, 0.641), (0.146, 0.658), (0.323, 0.554),
    (0.359, 0.527), (0.366, 0.474), (0.406, 0.402), (0.438, 0.373), (0.498, 0.389), (0.564, 0.345),
    (0.537, 0.316), (0.639, 0.305), (0.623, 0.233), (0.682, 0.241), (0.691, 0.217), (0.728, 0.177),
    (0.728, 0.137), (0.662, 0.201), (0.767, 0.056), (0.787, 0.089), (0.899, 0.008), (0.702, 0.073),
    (0.962, -0.130), (1.011, -0.165), (0.991, -0.213), (1.047, -0.237), (1.047, -0.290), (0.995, -0.430),
    (0.882, -0.194), (0.833, -0.216), (0.866, -0.109), (0.774, -0.269), (0.846, -0.053),
    (0.05, 0.30), (0.10, 0.25), (0.02, 0.22), (0.15, 0.20), (0.20, 0.15), (0.12, 0.12), (0.25, 0.10),
    (0.30, 0.05), (0.22, 0.02), (0.35, 0.00), (0.40, -0.03), (0.45, -0.06), (0.50, -0.08), (0.55, -0.04),
    (0.60, -0.10), (0.28, -0.08), (0.33, 0.12), (0.38, 0.08), (0.43, 0.05), (0.47, 0.10),
    (0.08, 0.33), (0.03, 0.27), (0.18, 0.27), (0.13, 0.17), (0.27, 0.19), (0.32, 0.23), (0.24, 0.06),
    (0.36, 0.14), (0.41, 0.17), (0.18, 0.07), (0.08, 0.10), (0.45, 0.13), (0.50, 0.05), (0.42, -0.10),
    (0.35, -0.05),
    (-0.134, 0.010), (0.248, 0.010), (-0.370, -0.170), (0.62, -0.18), (0.57, -0.12), (0.52, -0.20),
    (0.66, -0.13), (0.590, -0.052), (0.609, -0.045), (0.662, -0.028), (0.741, -0.021), (0.767, -0.069),
    (0.800, -0.085), (0.754, -0.149), (0.761, -0.197), (0.781, -0.253), (0.813, -0.229), (0.583, -0.229),
    (0.675, -0.157), (0.721, -0.189),
]


def rows_to_xy(row_y, row_x):
    xs, ys = [], []
    for y, row in zip(row_y, row_x):
        xs.extend(v / 100.0 for v in row)
        ys.extend([y] * len(row))
    return np.array(xs), np.array(ys)


def pairs_to_xy(pairs):
    arr = np.array(pairs, dtype=float)
    return arr[:, 0], arr[:, 1]


# orange drawn first, then blue, then the orange rings that sit on top
parts_under = [rows_to_xy(ORANGE_ROW_Y, ORANGE_ROW_X), rows_to_xy(ORANGE_MID_Y, ORANGE_MID_X),
               pairs_to_xy(ORANGE_EDGE)]
parts_blue = [rows_to_xy(BLUE_ROW_Y, BLUE_ROW_X), rows_to_xy(BLUE_MID_Y, BLUE_MID_X),
              pairs_to_xy(BLUE_SCATTER)]
parts_over = [rows_to_xy(ORANGE_UPPER_ROW_Y, ORANGE_UPPER_ROW_X), pairs_to_xy(ORANGE_OVER)]


def join(parts):
    return np.concatenate([p[0] for p in parts]), np.concatenate([p[1] for p in parts])


W, H = 809, 482
fig = plt.figure(figsize=(W / 100, H / 100), dpi=100)
left, right, top, bottom = 70.5, 628.0, 14.7, 430.5
ax = fig.add_axes([left / W, 1 - bottom / H, (right - left) / W, (bottom - top) / H])

ring = dict(s=20, facecolors="none", linewidths=2.0, alpha=0.7)
x, y = join(parts_under)
ax.scatter(x, y, edgecolors=COLORS[1], zorder=2, **ring)
x, y = join(parts_blue)
ax.scatter(x, y, edgecolors=COLORS[0], zorder=3, **ring)
x, y = join(parts_over)
ax.scatter(x, y, edgecolors=COLORS[1], zorder=4, **ring)

ax.set_xlim(X_TICKS[0], X_TICKS[-1])
ax.set_ylim(Y_TICKS[0], Y_TICKS[-1])


def fmt(v):
    return f"{v:.1f}".replace("-", "\u2212")


ax.set_xticks(X_TICKS)
ax.set_xticklabels([fmt(v) for v in X_TICKS])
ax.set_yticks(Y_TICKS)
ax.set_yticklabels([fmt(v) for v in Y_TICKS])
ax.set_axisbelow(True)
ax.grid(True, color="#dddddd", linewidth=0.75)
for side in ("top", "right"):
    ax.spines[side].set_color("#dddddd")
    ax.spines[side].set_linewidth(0.75)
for side in ("left", "bottom"):
    ax.spines[side].set_color("#888888")
    ax.spines[side].set_linewidth(0.9)
ax.tick_params(length=4.3, width=0.75, color="#888888", labelsize=8.7, pad=3, labelcolor="#000000")

ax.set_xlabel("First PCA Component", fontsize=10.9, fontweight="bold", labelpad=5)
ax.set_ylabel("Second PCA Component", fontsize=10.9, fontweight="bold", labelpad=4)

handles = [Line2D([], [], marker="o", linestyle="none", markersize=6.8, markerfacecolor="none",
                  markeredgecolor=c, markeredgewidth=1.1, alpha=0.7) for c in COLORS]
leg = fig.legend(handles, SERIES, title="Predicted Answer", loc="upper left",
                 bbox_to_anchor=(649 / W, 1 - 14 / H), frameon=False, fontsize=9.8,
                 title_fontproperties={"weight": "bold", "size": 10.9}, alignment="left",
                 handlelength=0.9, handletextpad=0.8, labelspacing=0.85, borderpad=0,
                 borderaxespad=0)

fig.savefig("out.png", dpi=100)
